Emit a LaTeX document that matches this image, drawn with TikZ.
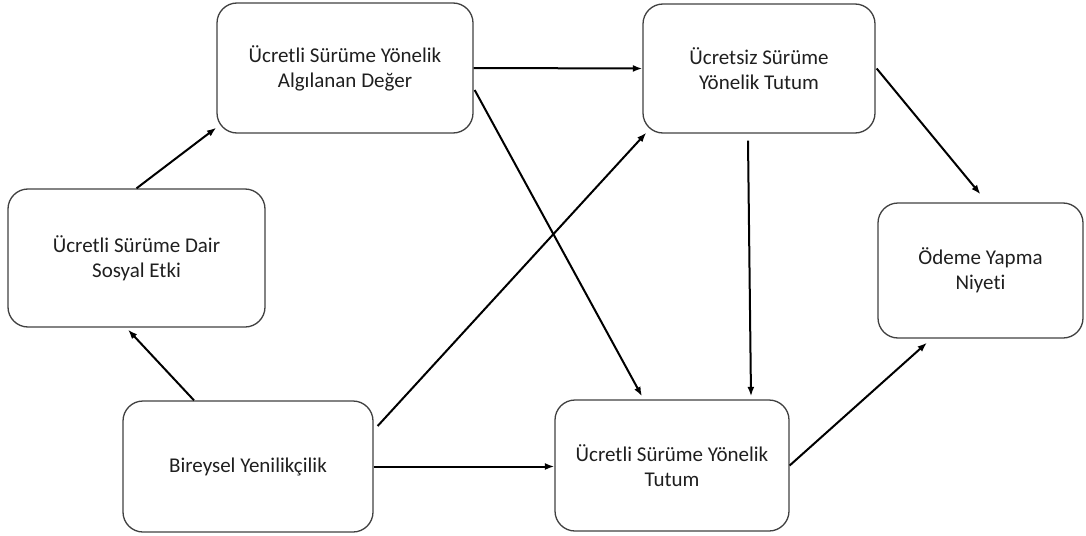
\documentclass[tikz,border=0pt]{standalone}
\usepackage{fontspec}
\setmainfont{Carlito}[Ligatures=CommonOff]
\usetikzlibrary{arrows.meta}
\begin{document}
\begin{tikzpicture}[x=1pt,y=-1pt,
  box/.style={draw=black!75,line width=1.3pt,rounded corners=20pt,align=center,
    font=\fontsize{21}{25}\selectfont,text=black!88,inner sep=0pt},
  conn/.style={line width=2pt,-{Latex[length=9.5pt,width=7pt]}}]
\useasboundingbox (0,0) rectangle (1086,535);
\node[box,minimum width=256pt,minimum height=130pt] (b1) at (345,68) {Ücretli Sürüme Yönelik\\Algılanan Değer};
\node[box,minimum width=232pt,minimum height=129pt] (b2) at (759,68.5) {Ücretsiz Sürüme\\Yönelik Tutum};
\node[box,minimum width=257pt,minimum height=138pt] (b3) at (136.5,258) {Ücretli Sürüme Dair\\Sosyal Etki};
\node[box,minimum width=205pt,minimum height=135pt] (b4) at (980.5,270.5) {Ödeme Yapma\\Niyeti};
\node[box,minimum width=250pt,minimum height=131pt] (b5) at (248,466.5) {Bireysel Yenilikçilik};
\node[box,minimum width=234pt,minimum height=131pt] (b6) at (672,465.5) {Ücretli Sürüme Yönelik\\Tutum};
\draw[conn] (b3.north) -- ([yshift=6pt]b1.south west);
\draw[conn] ([xshift=-54pt]b5.north) -- ([xshift=-8.5pt,yshift=-2pt]b3.south);
\draw[conn] (b1.east) -- (b2.west);
\draw[conn] ([xshift=1pt,yshift=-22pt]b1.east) -- ([xshift=-30pt,yshift=3pt]b6.north);
\draw[conn] ([xshift=4pt,yshift=40.5pt]b5.east) -- ([xshift=4pt,yshift=1pt]b2.south west);
\draw[conn] (b5.east) -- (b5.east -| b6.west);
\draw[conn] ([xshift=-11pt,yshift=-7pt]b2.south) -- ([xshift=79pt,yshift=3pt]b6.north);
\draw[conn] ([xshift=1pt]b2.east) -- ([yshift=8pt]b4.north);
\draw[conn] (b6.east) -- ([xshift=-53.5pt,yshift=-4pt]b4.south);
\end{tikzpicture}
\end{document}
